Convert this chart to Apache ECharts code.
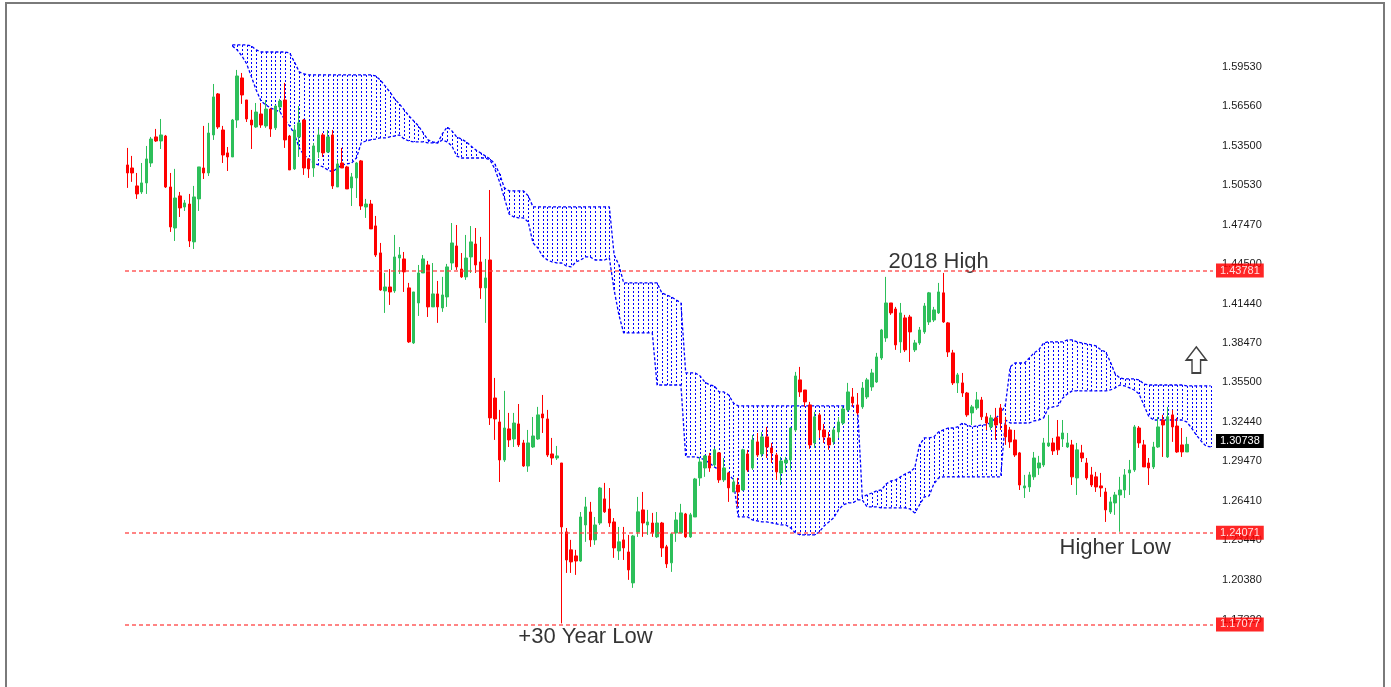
<!DOCTYPE html>
<html>
<head>
<meta charset="utf-8">
<title>Ichimoku</title>
<script src="https://cdn.jsdelivr.net/npm/echarts@6/dist/echarts.min.js"></script>
<style>
html,body{margin:0;padding:0;background:#fff;}
#chart{width:1391px;height:687px;}
</style>
</head>
<body>
<div id="chart"></div>
<script>
//K线数据 [开, 收, 低, 高]
var candles = [
	[1.5206,1.5145,1.5031,1.5336],[1.5183,1.5145,1.5077,1.5275],[1.5046,1.4985,1.4947,1.5145],[1.5000,1.5069,1.4985,1.5221],[1.5069,1.5252,1.4985,1.5351],
	[1.5221,1.5404,1.5191,1.5420],[1.5420,1.5389,1.5382,1.5481],[1.5389,1.5435,1.5328,1.5557],[1.5427,1.5038,1.5030,1.5435],[1.5038,1.4733,1.4695,1.5145],
	[1.4725,1.4954,1.4626,1.5176],[1.4970,1.4878,1.4809,1.5000],[1.4885,1.4916,1.4855,1.4939],[1.4908,1.4626,1.4580,1.4985],[1.4619,1.4962,1.4565,1.5046],
	[1.4947,1.5191,1.4855,1.5191],[1.5183,1.5145,1.5099,1.5504],[1.5145,1.5450,1.5122,1.5527],[1.5435,1.5725,1.5397,1.5824],[1.5748,1.5496,1.5481,1.5755],
	[1.5473,1.5282,1.5221,1.5504],[1.5298,1.5267,1.5160,1.5343],[1.5267,1.5549,1.5267,1.5557],[1.5549,1.5885,1.5489,1.5931],[1.5870,1.5740,1.5672,1.5908],
	[1.5702,1.5557,1.5534,1.5702],[1.5549,1.5511,1.5328,1.5626],[1.5496,1.5610,1.5489,1.5679],[1.5595,1.5511,1.5489,1.5679],[1.5504,1.5633,1.5489,1.5702],
	[1.5633,1.5481,1.5420,1.5641],[1.5489,1.5656,1.5473,1.5664],[1.5649,1.5694,1.5610,1.5710],[1.5702,1.5397,1.5336,1.5832],[1.5427,1.5168,1.5168,1.5435],
	[1.5176,1.5473,1.5168,1.5511],[1.5420,1.5527,1.5267,1.5656],[1.5549,1.5183,1.5130,1.5557],[1.5252,1.5176,1.5107,1.5259],[1.5183,1.5351,1.5115,1.5374],
	[1.5305,1.5435,1.5259,1.5481],[1.5435,1.5298,1.5267,1.5450],[1.5305,1.5420,1.5298,1.5473],[1.5435,1.5046,1.5023,1.5473],[1.5038,1.5214,1.5038,1.5244],
	[1.5221,1.5183,1.5183,1.5336],[1.5191,1.5023,1.5023,1.5199],[1.5031,1.5115,1.4893,1.5145],[1.5107,1.5221,1.4954,1.5229],[1.5237,1.4893,1.4863,1.5244],
	[1.4885,1.4908,1.4802,1.4947],[1.4908,1.4718,1.4718,1.4939],[1.4741,1.4519,1.4504,1.4817],[1.4535,1.4252,1.4245,1.4611],[1.4245,1.4275,1.4077,1.4382],
	[1.4275,1.4237,1.4138,1.4412],[1.4245,1.4504,1.4230,1.4672],[1.4496,1.4519,1.4374,1.4580],[1.4489,1.4390,1.4237,1.4542],[1.4268,1.3856,1.3848,1.4306],
	[1.3848,1.4237,1.3840,1.4237],[1.4153,1.4382,1.4054,1.4443],[1.4382,1.4489,1.4382,1.4519],[1.4443,1.4123,1.4046,1.4474],[1.4123,1.4222,1.4123,1.4458],
	[1.4222,1.4123,1.4001,1.4321],[1.4115,1.4214,1.4085,1.4352],[1.4199,1.4428,1.4123,1.4451],[1.4458,1.4611,1.4405,1.4763],[1.4588,1.4428,1.4405,1.4748],
	[1.4412,1.4352,1.4344,1.4534],[1.4352,1.4496,1.4329,1.4672],[1.4504,1.4619,1.4382,1.4740],[1.4603,1.4443,1.4382,1.4725],[1.4466,1.4268,1.4184,1.4657],
	[1.4268,1.4344,1.4001,1.4489],[1.4481,1.3276,1.3222,1.5015],[1.3428,1.3268,1.3108,1.3581],[1.3245,1.2955,1.2787,1.3337],[1.2955,1.3199,1.2940,1.3482],
	[1.3192,1.3108,1.3054,1.3314],[1.3115,1.3237,1.3054,1.3314],[1.3230,1.3070,1.3054,1.3382],[1.3085,1.2909,1.2902,1.3108],[1.2909,1.3085,1.2864,1.3184],
	[1.3054,1.3138,1.3047,1.3283],[1.3115,1.3299,1.3108,1.3360],[1.3306,1.3276,1.3161,1.3451],[1.3268,1.2993,1.2978,1.3337],[1.3001,1.2970,1.2917,1.3123],
	[1.2970,1.2986,1.2955,1.3062],[1.2932,1.2444,1.1708,1.2932],[1.2406,1.2192,1.2093,1.2436],[1.2269,1.2177,1.2093,1.2345],[1.2223,1.2184,1.2078,1.2269],
	[1.2184,1.2520,1.2177,1.2558],[1.2459,1.2597,1.2330,1.2673],[1.2558,1.2345,1.2292,1.2635],[1.2345,1.2459,1.2307,1.2520],[1.2474,1.2741,1.2459,1.2749],
	[1.2658,1.2559,1.2551,1.2780],[1.2581,1.2474,1.2444,1.2741],[1.2482,1.2284,1.2208,1.2512],[1.2261,1.2330,1.2192,1.2444],[1.2345,1.2284,1.2192,1.2444],
	[1.2253,1.2116,1.2040,1.2383],[1.2017,1.2375,1.1979,1.2383],[1.2406,1.2559,1.2368,1.2673],[1.2574,1.2474,1.2368,1.2711],[1.2459,1.2482,1.2383,1.2574],
	[1.2474,1.2398,1.2368,1.2551],[1.2368,1.2474,1.2360,1.2558],[1.2474,1.2284,1.2215,1.2482],[1.2292,1.2162,1.2131,1.2307],[1.2170,1.2391,1.2101,1.2398],
	[1.2398,1.2497,1.2330,1.2558],[1.2398,1.2551,1.2398,1.2620],[1.2543,1.2368,1.2360,1.2551],[1.2368,1.2536,1.2360,1.2551],[1.2520,1.2810,1.2520,1.2818],
	[1.2818,1.2940,1.2757,1.2978],[1.2894,1.2986,1.2826,1.2993],[1.2986,1.2894,1.2864,1.3009],[1.2917,1.3032,1.2902,1.3047],[1.3009,1.2803,1.2780,1.3016],
	[1.2803,1.2894,1.2787,1.2970],[1.2856,1.2742,1.2635,1.2864],[1.2711,1.2787,1.2711,1.2818],[1.2764,1.2711,1.2597,1.2818],[1.2726,1.3032,1.2718,1.3040],
	[1.3001,1.2879,1.2864,1.3032],[1.2894,1.3108,1.2879,1.3146],[1.3093,1.2993,1.2978,1.3161],[1.3001,1.3131,1.2978,1.3169],[1.3131,1.3054,1.2970,1.3207],
	[1.3047,1.3009,1.2932,1.3085],[1.2993,1.2864,1.2803,1.3009],[1.2856,1.2947,1.2764,1.2978],[1.2932,1.2955,1.2864,1.2978],[1.2955,1.3199,1.2879,1.3207],
	[1.3184,1.3596,1.3169,1.3627],[1.3566,1.3474,1.3436,1.3665],[1.3489,1.3398,1.3360,1.3489],[1.3375,1.3070,1.3040,1.3398],[1.3085,1.3284,1.3047,1.3322],
	[1.3299,1.3184,1.3123,1.3314],[1.3184,1.3131,1.3085,1.3230],[1.3123,1.3070,1.3032,1.3169],[1.3093,1.3184,1.3070,1.3207],[1.3169,1.3245,1.3123,1.3283],
	[1.3237,1.3344,1.3222,1.3367],[1.3337,1.3474,1.3322,1.3543],[1.3436,1.3390,1.3360,1.3504],[1.3375,1.3314,1.3299,1.3466],[1.3360,1.3504,1.3345,1.3550],
	[1.3436,1.3566,1.3420,1.3581],[1.3512,1.3619,1.3482,1.3650],[1.3550,1.3741,1.3543,1.3772],[1.3733,1.3947,1.3718,1.3955],[1.3886,1.4153,1.3856,1.4352],
	[1.4153,1.4077,1.4062,1.4153],[1.4107,1.3833,1.3795,1.4123],[1.3856,1.4077,1.3772,1.4153],[1.4039,1.3795,1.3779,1.4062],[1.4046,1.3932,1.3703,1.4062],
	[1.3795,1.3848,1.3779,1.3871],[1.3848,1.3947,1.3833,1.3970],[1.3932,1.4130,1.3917,1.4153],[1.4008,1.4230,1.3985,1.4237],[1.4023,1.4100,1.4008,1.4123],
	[1.4077,1.4237,1.4069,1.4306],[1.4230,1.4008,1.4001,1.4382],[1.4001,1.3779,1.3741,1.4008],[1.3772,1.3543,1.3527,1.3795],[1.3543,1.3604,1.3466,1.3619],
	[1.3543,1.3466,1.3436,1.3619],[1.3466,1.3299,1.3284,1.3474],[1.3314,1.3360,1.3222,1.3375],[1.3352,1.3413,1.3337,1.3474],[1.3413,1.3284,1.3260,1.3436],
	[1.3284,1.3237,1.3184,1.3314],[1.3207,1.3276,1.3184,1.3299],[1.3276,1.3222,1.3108,1.3352],[1.3352,1.3237,1.3184,1.3382],[1.3222,1.3131,1.3070,1.3284],
	[1.3184,1.3093,1.3047,1.3207],[1.3108,1.2993,1.2978,1.3184],[1.3009,1.2764,1.2726,1.3016],[1.2742,1.2757,1.2665,1.2841],[1.2749,1.2841,1.2711,1.2864],
	[1.2826,1.2970,1.2803,1.3016],[1.2894,1.2932,1.2841,1.2986],[1.2917,1.3085,1.2902,1.3123],[1.3062,1.3085,1.3054,1.3299],[1.3085,1.3024,1.2993,1.3123],
	[1.3131,1.3032,1.2993,1.3260],[1.3115,1.3161,1.3054,1.3260],[1.3054,1.3085,1.3047,1.3161],[1.3070,1.2826,1.2764,1.3108],[1.2818,1.3032,1.2688,1.3085],
	[1.3009,1.2970,1.2939,1.3070],[1.2932,1.2818,1.2803,1.2970],[1.2841,1.2764,1.2749,1.2902],[1.2826,1.2749,1.2711,1.2864],[1.2757,1.2742,1.2673,1.2856],
	[1.2711,1.2574,1.2482,1.2742],[1.2558,1.2635,1.2543,1.2673],[1.2627,1.2688,1.2536,1.2711],[1.2688,1.2726,1.2407,1.2826],[1.2726,1.2841,1.2665,1.2886],
	[1.2856,1.2879,1.2688,1.2955],[1.2879,1.3207,1.2864,1.3222],[1.3199,1.3085,1.3047,1.3214],[1.3070,1.2902,1.2902,1.3108],[1.2932,1.2894,1.2764,1.2970],
	[1.2902,1.3054,1.2886,1.3093],[1.3054,1.3207,1.3047,1.3283],[1.3260,1.3222,1.2978,1.3299],[1.2978,1.3284,1.2970,1.3360],[1.3299,1.3207,1.3093,1.3337],
	[1.3214,1.3016,1.3009,1.3276],[1.3070,1.3016,1.2978,1.3199],[1.3016,1.3074,1.3016,1.3131]
];

//云图上沿 (含前移的5根)
var cloudTop = [
	null,null,null,null,null,null,null,null,null,null,
	null,null,null,null,null,null,null,null,null,null,
	null,null,1.6122,1.6122,1.6122,1.6122,1.6114,1.6084,1.6068,1.6068,
	1.6068,1.6068,1.6068,1.6068,1.6061,1.5992,1.5916,1.5900,1.5893,1.5893,
	1.5893,1.5893,1.5893,1.5893,1.5893,1.5893,1.5893,1.5893,1.5893,1.5893,
	1.5893,1.5893,1.5885,1.5855,1.5809,1.5763,1.5710,1.5672,1.5626,1.5580,
	1.5542,1.5504,1.5450,1.5397,1.5382,1.5374,1.5443,1.5496,1.5466,1.5420,
	1.5404,1.5382,1.5351,1.5321,1.5298,1.5275,1.5252,1.5214,1.5137,1.5031,
	1.5008,1.5008,1.5008,1.5008,1.4970,1.4886,1.4886,1.4886,1.4886,1.4886,
	1.4886,1.4886,1.4886,1.4886,1.4886,1.4886,1.4886,1.4886,1.4886,1.4886,
	1.4886,1.4886,1.4519,1.4443,1.4306,1.4306,1.4306,1.4306,1.4306,1.4306,
	1.4306,1.4306,1.4229,1.4214,1.4199,1.4176,1.4153,1.3619,1.3619,1.3619,
	1.3596,1.3550,1.3527,1.3520,1.3474,1.3474,1.3451,1.3390,1.3367,1.3367,
	1.3367,1.3367,1.3367,1.3367,1.3367,1.3367,1.3367,1.3367,1.3367,1.3367,
	1.3367,1.3367,1.3367,1.3367,1.3367,1.3367,1.3367,1.3367,1.3367,1.3367,
	1.3367,1.3367,1.3367,1.3367,1.2673,1.2688,1.2703,1.2719,1.2726,1.2772,
	1.2795,1.2803,1.2826,1.2848,1.2864,1.2894,1.3070,1.3123,1.3123,1.3131,
	1.3169,1.3184,1.3199,1.3199,1.3207,1.3237,1.3222,1.3207,1.3215,1.3222,
	1.3222,1.3245,1.3276,1.3306,1.3375,1.3665,1.3695,1.3695,1.3695,1.3733,
	1.3772,1.3795,1.3848,1.3856,1.3856,1.3856,1.3856,1.3871,1.3871,1.3856,
	1.3848,1.3840,1.3833,1.3825,1.3795,1.3779,1.3703,1.3611,1.3581,1.3573,
	1.3573,1.3573,1.3566,1.3535,1.3527,1.3527,1.3527,1.3527,1.3527,1.3527,
	1.3527,1.3527,1.3520,1.3520,1.3520,1.3520,1.3520,1.3520
];

//云图下沿
var cloudBottom = [
	null,null,null,null,null,null,null,null,null,null,
	null,null,null,null,null,null,null,null,null,null,
	null,null,1.6114,1.6084,1.6038,1.5977,1.5878,1.5778,1.5694,1.5664,
	1.5641,1.5626,1.5610,1.5549,1.5504,1.5443,1.5336,1.5282,1.5252,1.5221,
	1.5206,1.5191,1.5168,1.5153,1.5183,1.5206,1.5214,1.5221,1.5259,1.5374,
	1.5389,1.5397,1.5404,1.5412,1.5412,1.5420,1.5427,1.5435,1.5404,1.5389,
	1.5382,1.5382,1.5382,1.5374,1.5374,1.5374,1.5397,1.5382,1.5351,1.5275,
	1.5259,1.5259,1.5259,1.5259,1.5259,1.5259,1.5244,1.5176,1.5076,1.4954,
	1.4832,1.4809,1.4802,1.4802,1.4771,1.4611,1.4573,1.4512,1.4481,1.4466,
	1.4458,1.4458,1.4435,1.4428,1.4466,1.4481,1.4504,1.4504,1.4481,1.4481,
	1.4481,1.4497,1.4252,1.4062,1.3924,1.3924,1.3924,1.3924,1.3924,1.3924,
	1.3924,1.3527,1.3527,1.3527,1.3527,1.3527,1.3527,1.2978,1.2978,1.2978,
	1.2971,1.2955,1.2932,1.2902,1.2879,1.2864,1.2848,1.2803,1.2520,1.2520,
	1.2520,1.2497,1.2490,1.2482,1.2482,1.2475,1.2467,1.2459,1.2459,1.2436,
	1.2398,1.2383,1.2383,1.2383,1.2383,1.2406,1.2452,1.2482,1.2513,1.2574,
	1.2612,1.2627,1.2627,1.2650,1.2650,1.2597,1.2597,1.2597,1.2589,1.2589,
	1.2589,1.2589,1.2589,1.2589,1.2581,1.2551,1.2612,1.2673,1.2681,1.2772,
	1.2818,1.2826,1.2826,1.2826,1.2826,1.2826,1.2826,1.2826,1.2826,1.2826,
	1.2826,1.2826,1.2826,1.2826,1.3260,1.3237,1.3237,1.3237,1.3237,1.3237,
	1.3253,1.3260,1.3276,1.3352,1.3360,1.3367,1.3428,1.3459,1.3482,1.3482,
	1.3482,1.3482,1.3482,1.3482,1.3482,1.3482,1.3489,1.3505,1.3527,1.3520,
	1.3505,1.3489,1.3459,1.3375,1.3291,1.3260,1.3260,1.3260,1.3260,1.3260,
	1.3260,1.3260,1.3245,1.3199,1.3146,1.3100,1.3062,1.3054
];

//右侧价格刻度
var priceTicks = [1.59530, 1.56560, 1.53500, 1.50530, 1.47470, 1.44500, 1.41440, 1.38470, 1.35500, 1.32440, 1.29470, 1.26410, 1.23440, 1.20380, 1.17320];
//水平线
var levels = [1.43781, 1.24071, 1.17077];
var lastPrice = 1.30738;
//文字标注 [柱序号, 价格, 文字]
var notes = [[170, 1.4466, '2018 High'], [96, 1.1605, '+30 Year Low'], [207, 1.2284, 'Higher Low']];
var arrowAt = [224, 1.3718];

var bars = [];
for (var i = 0; i < cloudTop.length; i++) bars.push('w' + i);

var hatch = [];
for (var i = 0; i < cloudTop.length; i++) {
	if (cloudTop[i] != null && cloudBottom[i] != null) hatch.push([i, cloudTop[i], cloudBottom[i]]);
}

//云图竖线
function renderhatch(params, api){
	var p1 = api.coord([api.value(0), api.value(1)]);
	var p2 = api.coord([api.value(0), api.value(2)]);
	var x = Math.round(p1[0]) + 0.5;
	return {
		type: 'line',
		shape: {x1: x, y1: Math.round(p1[1]), x2: x, y2: Math.round(p2[1])},
		style: {stroke: '#0000ff', lineWidth: 1, lineDash: [2, 2]}
	};
}

var lineMarks = [];
for (var i = 0; i < levels.length; i++) {
	lineMarks.push({
		yAxis: levels[i], name: levels[i].toFixed(5),
		lineStyle: {color: '#ff4040', width: 1.5, type: [4, 3], opacity: 0.85},
		label: {backgroundColor: '#ff0000', color: '#ffffff'}
	});
}
lineMarks.push({
	yAxis: lastPrice, name: lastPrice.toFixed(5),
	lineStyle: {color: 'rgba(0,0,0,0)', width: 1},
	label: {backgroundColor: '#000000', color: '#ffffff'}
});

var myChart = echarts.init(document.getElementById('chart'));
myChart.setOption({
	animation: false,
	backgroundColor: '#ffffff',
	grid: {left: 125, right: 178, top: 44, bottom: 7, outerBoundsMode: 'none'},
	xAxis: {
		type: 'category', data: bars, boundaryGap: true,
		axisLine: {show: false}, axisTick: {show: false}, axisLabel: {show: false}, splitLine: {show: false}
	},
	yAxis: {
		type: 'value', position: 'right', min: 1.1276, max: 1.6129, scale: true,
		axisLine: {show: false}, axisTick: {show: false}, splitLine: {show: false},
		axisLabel: {
			customValues: priceTicks, margin: 9, color: '#1a1a1a', fontSize: 11, fontFamily: 'Liberation Sans',
			formatter: function(v){ return v.toFixed(5); }
		}
	},
	graphic: [{
		type: 'rect', shape: {x: 6, y: 3, width: 1378, height: 700},
		style: {fill: 'none', stroke: '#7a7a7a', lineWidth: 2}, silent: true
	}],
	series: [{
		type: 'custom', name: 'cloud', renderItem: renderhatch, data: hatch, clip: true,
		encode: {x: 0, y: [1, 2]}, z: 1
	}, {
		type: 'line', name: 'spanTop', data: cloudTop, symbol: 'none', connectNulls: false, z: 1,
		lineStyle: {color: '#0000ff', width: 1.3, type: [3, 2]}
	}, {
		type: 'line', name: 'spanBottom', data: cloudBottom, symbol: 'none', connectNulls: false, z: 1,
		lineStyle: {color: '#0000ff', width: 1.3, type: [3, 2]}
	}, {
		type: 'candlestick', name: 'price', data: candles, barWidth: 3, z: 3,
		itemStyle: {color: '#2dbf5a', color0: '#ff0000', borderColor: '#2dbf5a', borderColor0: '#ff0000', borderWidth: 1},
		markLine: {
			symbol: 'none', silent: true, animation: false,
			label: {
				show: true, position: 'end', distance: 3, padding: [2, 4, 1, 4],
				fontSize: 11, fontFamily: 'Liberation Sans', formatter: '{b}'
			},
			data: lineMarks
		}
	}, {
		type: 'scatter', name: 'notes', symbolSize: 0, z: 4,
		data: notes.map(function(n){ return {value: [n[0], n[1]], name: n[2]}; }),
		label: {show: true, position: 'inside', formatter: '{b}', color: '#000', fontSize: 22, fontFamily: 'Liberation Sans'}
	}, {
		type: 'scatter', name: 'arrow', z: 4,
		symbol: 'path://M10.5,0 L21,13 L15,13 L15,26 L6,26 L6,13 L0,13 Z', symbolSize: [20, 26],
		itemStyle: {color: '#ffffff', borderColor: '#111', borderWidth: 1.6},
		data: [arrowAt]
	}]
});
</script>
</body>
</html>
